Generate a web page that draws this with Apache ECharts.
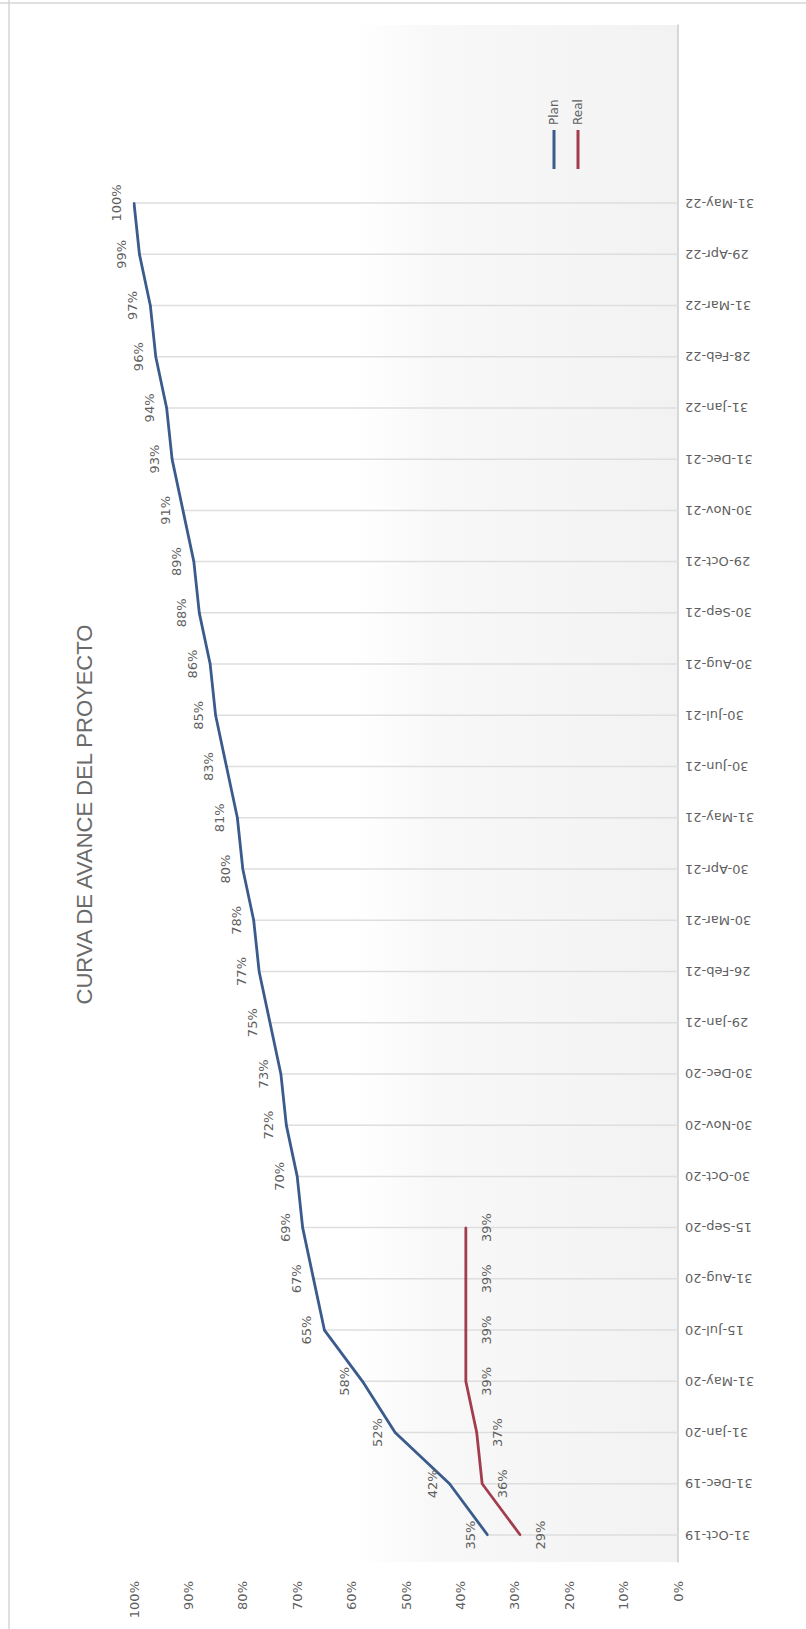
<!DOCTYPE html>
<html>
<head>
<meta charset="utf-8">
<script src="https://cdn.jsdelivr.net/npm/echarts@6/dist/echarts.min.js"></script>
<style>
  html, body { margin: 0; padding: 0; background: #ffffff; width: 806px; height: 1629px; overflow: hidden; }
  #chart { position: absolute; left: 0; top: 0; width: 1629px; height: 806px;
           transform-origin: 0 0; transform: translate(0px, 1629px) rotate(-90deg); }
</style>
</head>
<body>
<div id="chart"></div>
<script>
const categories = ['31-Oct-19','31-Dec-19','31-Jan-20','31-May-20','15-Jul-20','31-Aug-20','15-Sep-20',
  '30-Oct-20','30-Nov-20','30-Dec-20','29-Jan-21','26-Feb-21','30-Mar-21','30-Apr-21','31-May-21',
  '30-Jun-21','30-Jul-21','30-Aug-21','30-Sep-21','29-Oct-21','30-Nov-21','31-Dec-21','31-Jan-22',
  '28-Feb-22','31-Mar-22','29-Apr-22','31-May-22'];
const planValues = [35,42,52,58,65,67,69,70,72,73,75,77,78,80,81,83,85,86,88,89,91,93,94,96,97,99,100];
const realValues = [29,36,37,39,39,39,39];
const titleText = 'CURVA DE AVANCE DEL PROYECTO';
const seriesNames = ['Plan','Real'];

const chart = echarts.init(document.getElementById('chart'), null, { renderer: 'svg' });
const labelFont = 'DejaVu Sans';
const grey = '#5f5f5f';

chart.setOption({
  backgroundColor: '#ffffff',
  animation: false,
  title: {
    text: titleText, left: 'center', top: 68,
    textStyle: { fontFamily: 'Liberation Sans', fontSize: 22, fontWeight: 'normal', color: '#6a6a6a' }
  },
  legend: {
    data: seriesNames, orient: 'vertical', left: 1455, top: 543,
    icon: 'rect', itemWidth: 39, itemHeight: 3, itemGap: 12,
    textStyle: { fontFamily: labelFont, fontSize: 12, color: grey }
  },
  graphic: [
    { type: 'rect', z: -10, silent: true,
      shape: { x: 67, y: 352, width: 1537, height: 326 },
      style: { fill: new echarts.graphic.LinearGradient(0, 0, 0, 1, [
        { offset: 0, color: 'rgba(246,246,246,0)' },
        { offset: 0.25, color: 'rgba(245,245,245,0.7)' },
        { offset: 1, color: 'rgba(242,242,242,1)' }]) } },
    { type: 'line', silent: true, shape: { x1: 0, y1: 9, x2: 1629, y2: 9 },
      style: { stroke: '#d6d6d6', lineWidth: 1.5 } },
    { type: 'line', silent: true, shape: { x1: 1626, y1: 0, x2: 1626, y2: 806 },
      style: { stroke: '#d6d6d6', lineWidth: 1.5 } }
  ],
  grid: [
    { left: 94, right: 203, top: 134, bottom: 128 },
    { left: 67, right: 25, top: 134, bottom: 128 }
  ],
  xAxis: [
    { type: 'category', gridIndex: 0, data: categories, boundaryGap: false,
      axisLine: { show: false }, axisTick: { show: false }, splitLine: { show: false },
      axisLabel: { interval: 0, rotate: 90, margin: 7, fontFamily: labelFont, fontSize: 13, color: grey } },
    { type: 'value', gridIndex: 1, min: 0, max: 1,
      axisLine: { show: true, lineStyle: { color: '#cccccc', width: 1.5 } },
      axisTick: { show: false }, axisLabel: { show: false }, splitLine: { show: false } }
  ],
  yAxis: [
    { type: 'value', gridIndex: 0, min: 0, max: 100, interval: 10,
      axisLine: { show: false }, axisTick: { show: false }, splitLine: { show: false },
      axisLabel: { formatter: '{value}%', margin: 46, fontFamily: labelFont, fontSize: 13, color: grey } },
    { type: 'value', gridIndex: 1, show: false, min: 0, max: 1 }
  ],
  series: [
    { name: 'drop', type: 'bar', xAxisIndex: 0, yAxisIndex: 0, data: planValues,
      barWidth: 1.5, silent: true, z: 1, itemStyle: { color: '#dedede' } },
    { name: seriesNames[0], type: 'line', xAxisIndex: 0, yAxisIndex: 0, data: planValues,
      symbol: 'circle', symbolSize: 2, z: 5,
      lineStyle: { color: '#3a5b8c', width: 2.8 }, itemStyle: { color: '#3a5b8c' },
      label: { show: true, position: 'top', distance: 10, formatter: '{c}%',
               fontFamily: labelFont, fontSize: 13, color: grey } },
    { name: seriesNames[1], type: 'line', xAxisIndex: 0, yAxisIndex: 0, data: realValues,
      symbol: 'circle', symbolSize: 2, z: 4,
      lineStyle: { color: '#a23d4e', width: 2.8 }, itemStyle: { color: '#a23d4e' },
      label: { show: true, position: 'bottom', distance: 13, formatter: '{c}%',
               fontFamily: labelFont, fontSize: 13, color: grey } }
  ]
});
</script>
</body>
</html>
